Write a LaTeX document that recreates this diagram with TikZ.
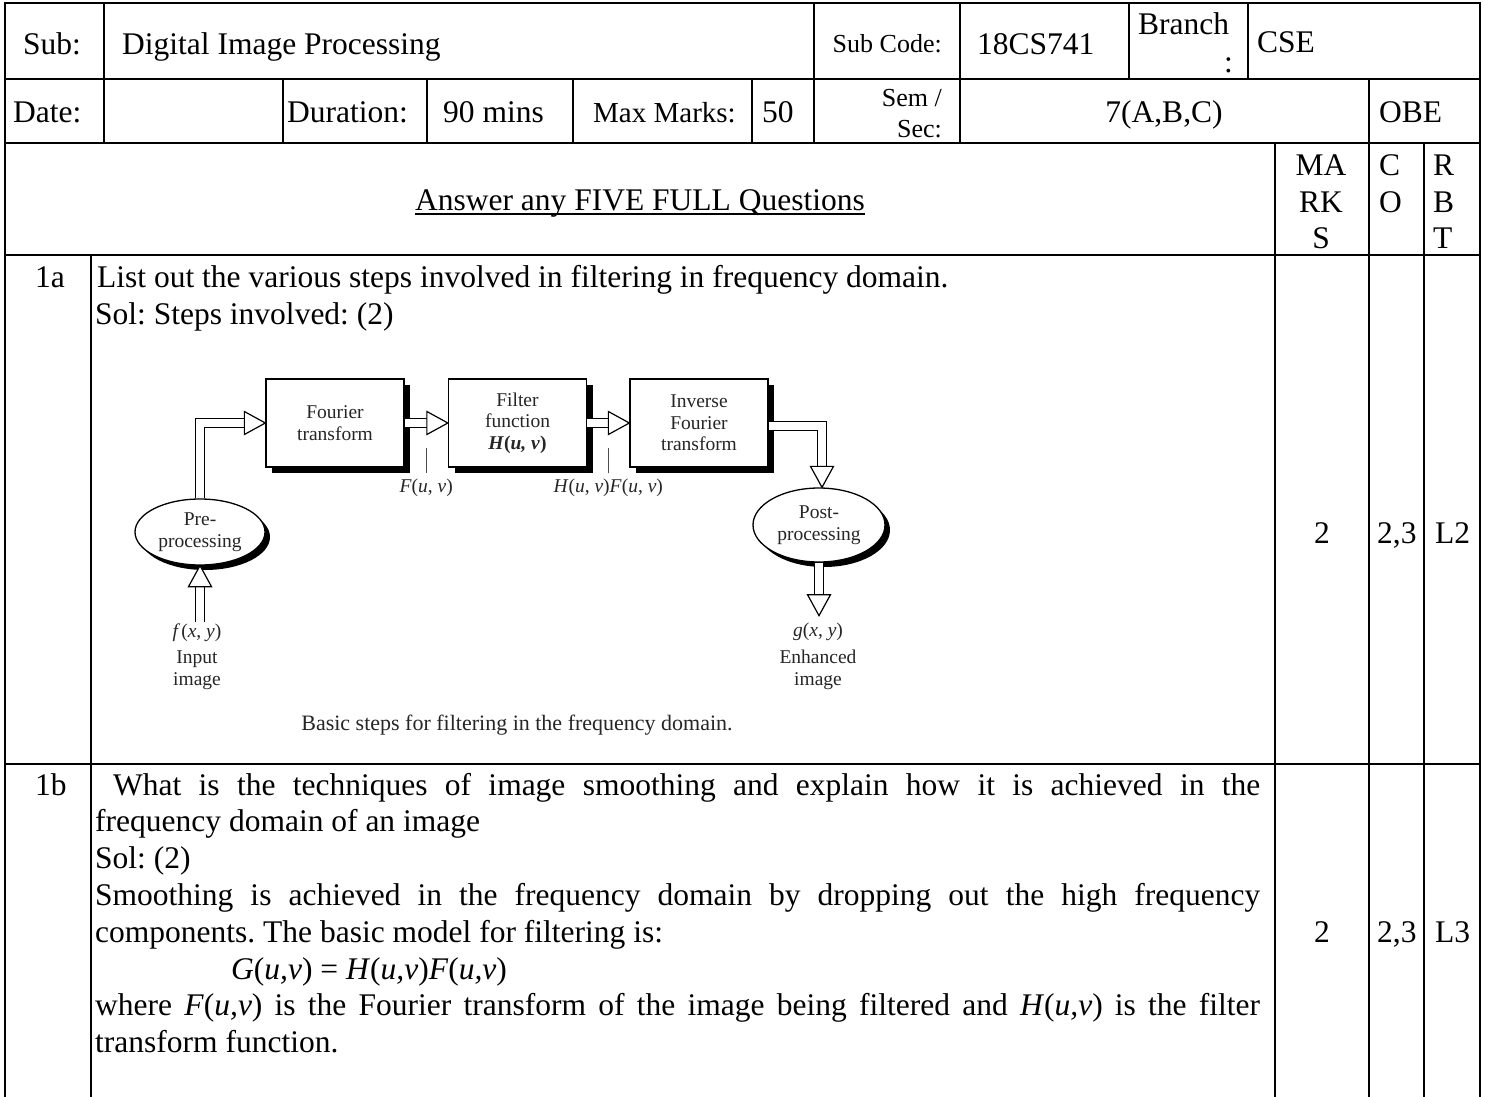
\documentclass[tikz,border=0pt]{standalone}
\usepackage{fontspec}
\setmainfont{Liberation Serif}
\usetikzlibrary{shapes.geometric,shadows,calc}
\frenchspacing

\newcommand\mybody{\fontsize{31.5}{36.8}\selectfont}
\newcommand\mysmall{\fontsize{26}{30}\selectfont}
\newcommand\dgfont{\fontsize{19.5}{21.5}\selectfont}

\tikzset{
  txt/.style={anchor=base west, inner sep=0pt, font=\mybody},
  sm/.style={anchor=base west, inner sep=0pt, font=\mysmall},
  grid/.style={line width=1.8pt, line cap=rect},
  stage/.style={draw, line width=1.3pt, fill=white, minimum width=138pt,
    minimum height=88pt, inner sep=0pt, align=center, font=\dgfont,
    text=black!85,
    drop shadow={shadow xshift=6pt, shadow yshift=-6pt, fill=black, opacity=1}},
  oval/.style={ellipse, draw, line width=1.3pt, fill=white, inner sep=0pt,
    align=center, font=\dgfont, text=black!85,
    drop shadow={shadow xshift=5pt, shadow yshift=-5pt, fill=black, opacity=1}},
  lbl/.style={inner sep=0pt, align=center, font=\dgfont, text=black!85},
  shaft/.style={double distance=8.5pt, line width=1.2pt, line join=miter},
  tick/.style={line width=0.8pt, black!70},
  hollowhead/.pic={\draw[fill=white, line width=1.2pt, line join=miter]
    (0,0) -- (-21,11.5) -- (-21,-11.5) -- cycle;}
}

\begin{document}
\begin{tikzpicture}[x=1pt,y=1pt]
\useasboundingbox (0,0) rectangle (1485,-1097);
\fill[white] (0,0) rectangle (1485,-1097);

% ---------- table rules ----------
\draw[grid] (5,-3) -- (1480,-3);
\draw[grid] (5,-79) -- (1480,-79);
\draw[grid] (5,-143) -- (1480,-143);
\draw[grid] (5,-255) -- (1480,-255);
\draw[grid] (5,-764) -- (1480,-764);
\draw[grid] (5,-3) -- (5,-1097);
\draw[grid] (1480,-3) -- (1480,-1097);
\draw[grid] (104,-3) -- (104,-143);
\draw[grid] (814,-3) -- (814,-143);
\draw[grid] (960,-3) -- (960,-143);
\draw[grid] (1129,-3) -- (1129,-79);
\draw[grid] (1248,-3) -- (1248,-79);
\draw[grid] (283,-79) -- (283,-143);
\draw[grid] (427,-79) -- (427,-143);
\draw[grid] (573,-79) -- (573,-143);
\draw[grid] (752,-79) -- (752,-143);
\draw[grid] (1369,-79) -- (1369,-1097);
\draw[grid] (1275,-143) -- (1275,-1097);
\draw[grid] (1424,-143) -- (1424,-1097);
\draw[grid] (91,-255) -- (91,-1097);

% ---------- header rows ----------
\node[txt] (sub) at (23,-55) {Sub:};
\node[txt] (subname) at (122,-55) {Digital Image Processing};
\node[sm, anchor=base east] (subcode) at (942,-53) {Sub Code:};
\node[txt] (code) at (977,-55) {18CS741};
\node[txt] (branch) at (1138,-35) {Branch};
\node[txt] (branchc) at (1224,-73) {:};
\node[txt] (cse) at (1257,-53) {CSE};

\node[txt] (date) at (13,-123) {Date:};
\node[txt] (dur) at (287,-123) {Duration:};
\node[txt] (mins) at (443,-123) {90 mins};
\node[txt, font=\fontsize{29}{33}\selectfont] (maxm) at (593,-123) {Max Marks:};
\node[txt] (fifty) at (762,-123) {50};
\node[sm, anchor=base east] (sem) at (942,-107) {Sem /};
\node[sm, anchor=base east] (sec) at (942,-137) {Sec:};
\node[txt, anchor=base] (secs) at (1164,-123) {7(A,B,C)};
\node[txt] (obe) at (1379,-123) {OBE};

\node[txt, anchor=base] (ans) at (640,-210) {Answer any FIVE FULL Questions};
\draw[line width=1.5pt] ([yshift=-4pt]ans.base west) -- ([yshift=-4pt]ans.base east);
\node[txt, anchor=base] (ma) at (1321,-175) {MA};
\node[txt, anchor=base] (rk) at (1321,-212) {RK};
\node[txt, anchor=base] (ms) at (1321,-248) {S};
\node[txt] (cc) at (1379,-175) {C};
\node[txt] (co) at (1379,-212) {O};
\node[txt] (rr) at (1433,-175) {R};
\node[txt] (rb) at (1433,-212) {B};
\node[txt] (rt) at (1433,-248) {T};

% ---------- question 1a ----------
\node[txt] (qa) at (35,-287) {1a};
\node[txt] (qatext) at (97,-287) {List out the various steps involved in filtering in frequency domain.};
\node[txt] (qasol) at (95,-324) {Sol: Steps involved: (2)};
\node[txt, anchor=base] (qamarks) at (1322,-543) {2};
\node[txt] (qaco) at (1377,-543) {2,3};
\node[txt] (qarbt) at (1435,-543) {L2};

% ---------- filtering pipeline ----------
\node[stage] (ft) at (335,-423) {Fourier\\transform};
\node[stage] (ff) at (517.5,-423) {Filter\\function\\\textbf{\textit{H}(\textit{u, v})}};
\node[stage] (inv) at (699,-423) {Inverse\\Fourier\\transform};
\node[oval, minimum width=130pt, minimum height=66pt] (pre) at (200,-532) {Pre-\\processing};
\node[oval, minimum width=132pt, minimum height=74pt] (post) at (819,-525) {Post-\\processing};

\node[lbl] (fin) at (197,-633) {\textit{f}\kern1pt(\textit{x}, \textit{y})};
\node[lbl] (fincap) at (197,-670) {Input\\image};
\node[lbl] (gout) at (818,-632) {\textit{g}(\textit{x}, \textit{y})};
\node[lbl] (goutcap) at (818,-670) {Enhanced\\image};

\coordinate (inbase) at (200,-622);
\coordinate (outtip) at ($(post.south)+(0,-53)$);
\coordinate (m1) at ($(ft.east)!0.5!(ff.west)$);
\coordinate (m2) at ($(ff.east)!0.5!(inv.west)$);

% input image into pre-processing
\draw[shaft] (inbase) -- ($(pre.south)+(0,-21)$);
\pic[rotate=90] at (pre.south) {hollowhead};
% pre-processing into the Fourier transform
\draw[shaft] (pre.north) |- ($(ft.west)+(-21,0)$);
\pic at (ft.west) {hollowhead};
% transform into the filter
\draw[shaft] (ft.east) -- ($(ff.west)+(-21,0)$);
\pic at (ff.west) {hollowhead};
% filter into the inverse transform
\draw[shaft] (ff.east) -- ($(inv.west)+(-21,0)$);
\pic at (inv.west) {hollowhead};
% inverse transform into post-processing
\draw[shaft] ([yshift=-3pt]inv.east) -| ($(post.north)+(3,21)$);
\pic[rotate=-90] at ($(post.north)+(3,0)$) {hollowhead};
% post-processing out to the enhanced image
\draw[shaft] (post.south) -- ($(outtip)+(0,21)$);
\pic[rotate=-90] at (outtip) {hollowhead};

% signal labels
\draw[tick] ($(m1)+(0,-25)$) -- ($(m1)+(0,-50)$);
\node[lbl] (fuv) at ($(m1)+(0,-65)$) {\textit{F}(\textit{u}, \textit{v})};
\draw[tick] ($(m2)+(0,-25)$) -- ($(m2)+(0,-50)$);
\node[lbl] (hfuv) at ($(m2)+(0,-65)$) {\textit{H}(\textit{u}, \textit{v})\textit{F}(\textit{u}, \textit{v})};

\node[lbl, font=\fontsize{22}{24}\selectfont] (cap) at (517,-725) {Basic steps for filtering in the frequency domain.};

% ---------- question 1b ----------
\node[txt] (qb) at (35,-795) {1b};
\node[txt] (qb1) at (113,-795) {\makebox[1147pt][s]{What is the techniques of image smoothing and explain how it is achieved in the}};
\node[txt] (qb2) at (95,-831.8) {frequency domain of an image};
\node[txt] (qb3) at (95,-868.6) {Sol: (2)};
\node[txt] (qb4) at (95,-905.4) {\makebox[1165pt][s]{Smoothing is achieved in the frequency domain by dropping out the high frequency}};
\node[txt] (qb5) at (95,-942.2) {components. The basic model for filtering is:};
\node[txt] (qb6) at (231,-979) {\textit{G}(\textit{u,v}) = \textit{H}(\textit{u,v})\textit{F}(\textit{u,v})};
\node[txt] (qb7) at (95,-1015.8) {\makebox[1165pt][s]{where \textit{F}(\textit{u,v}) is the Fourier transform of the image being filtered and \textit{H}(\textit{u,v}) is the filter}};
\node[txt] (qb8) at (95,-1052.6) {transform function.};
\node[txt, anchor=base] (qbmarks) at (1322,-942) {2};
\node[txt] (qbco) at (1377,-942) {2,3};
\node[txt] (qbrbt) at (1435,-942) {L3};
\end{tikzpicture}
\end{document}
